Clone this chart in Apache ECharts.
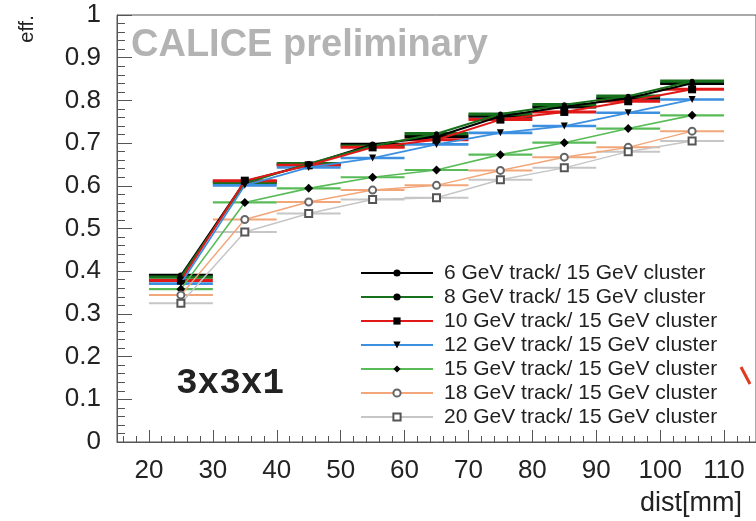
<!DOCTYPE html>
<html>
<head>
<meta charset="utf-8">
<script src="https://cdn.jsdelivr.net/npm/echarts@6/dist/echarts.min.js"></script>
<style>
  html, body { margin: 0; padding: 0; background: #ffffff; }
  #chart { width: 756px; height: 521px; }
</style>
</head>
<body>
<div id="chart"></div>
<script>
// ---- data ----
const binCenters = [25, 35, 45, 55, 65, 75, 85, 95, 105];
const binHalfWidth = 5;
const eff6  = [0.390, 0.610, 0.650, 0.697, 0.715, 0.763, 0.785, 0.805, 0.840];
const eff8  = [0.386, 0.606, 0.652, 0.693, 0.722, 0.768, 0.790, 0.810, 0.845];
const eff10 = [0.378, 0.612, 0.648, 0.690, 0.708, 0.755, 0.773, 0.798, 0.826];
const eff12 = [0.371, 0.601, 0.643, 0.665, 0.697, 0.724, 0.740, 0.771, 0.802];
const eff15 = [0.358, 0.561, 0.594, 0.620, 0.637, 0.673, 0.701, 0.734, 0.765];
const eff18 = [0.344, 0.521, 0.562, 0.590, 0.601, 0.636, 0.667, 0.690, 0.728];
const eff20 = [0.325, 0.492, 0.535, 0.568, 0.572, 0.614, 0.642, 0.680, 0.705];
const seriesNames = [
  '6 GeV track/ 15 GeV cluster',
  '8 GeV track/ 15 GeV cluster',
  '10 GeV track/ 15 GeV cluster',
  '12 GeV track/ 15 GeV cluster',
  '15 GeV track/ 15 GeV cluster',
  '18 GeV track/ 15 GeV cluster',
  '20 GeV track/ 15 GeV cluster'
];
const xMajorTicks = [20, 30, 40, 50, 60, 70, 80, 90, 100, 110];
const xMinorTicks = [16, 18, 22, 24, 26, 28, 32, 34, 36, 38, 42, 44, 46, 48, 52, 54, 56, 58,
  62, 64, 66, 68, 72, 74, 76, 78, 82, 84, 86, 88, 92, 94, 96, 98, 102, 104, 106, 108, 112, 114];

// ---- styles ----
const allValues = [eff6, eff8, eff10, eff12, eff15, eff18, eff20];
const styles = [
  { color: '#000000', symbol: 'circle', size: 6, rotate: 0, mark: '#000', barW: 3.2, lineW: 2 },
  { color: '#17701c', symbol: 'circle', size: 5, rotate: 0, mark: '#000', barW: 3.2, lineW: 2 },
  { color: '#e01818', symbol: 'rect', size: 8, rotate: 0, mark: '#000', barW: 3, lineW: 2 },
  { color: '#3d8fe0', symbol: 'triangle', size: 7, rotate: 180, mark: '#000', barW: 2.6, lineW: 1.8 },
  { color: '#58bb58', symbol: 'diamond', size: 9, rotate: 0, mark: '#000', barW: 2.2, lineW: 1.6 },
  { color: '#f2a679', symbol: 'emptyCircle', size: 7, rotate: 0, mark: '#666', barW: 2, lineW: 1.5 },
  { color: '#c6c6c6', symbol: 'emptyRect', size: 7, rotate: 0, mark: '#555', barW: 2, lineW: 1.5 }
];

const font = 'Liberation Sans, Arial, Helvetica, sans-serif';
const series = [];

// horizontal bin-width bars
allValues.forEach(function (vals, i) {
  const st = styles[i];
  series.push({
    type: 'custom',
    xAxisIndex: 0,
    yAxisIndex: 0,
    silent: true,
    z: 2,
    data: binCenters.map(function (x, k) { return [x, vals[k]]; }),
    encode: { x: 0, y: 1 },
    renderItem: function (params, api) {
      const x = api.value(0), y = api.value(1);
      const p1 = api.coord([x - binHalfWidth, y]);
      const p2 = api.coord([x + binHalfWidth, y]);
      return {
        type: 'line',
        shape: { x1: p1[0], y1: p1[1], x2: p2[0], y2: p2[1] },
        style: { stroke: st.color, lineWidth: st.barW }
      };
    }
  });
});

// connecting lines + markers
allValues.forEach(function (vals, i) {
  const st = styles[i];
  const empty = st.symbol.indexOf('empty') === 0;
  series.push({
    name: seriesNames[i],
    type: 'line',
    xAxisIndex: 0,
    yAxisIndex: 0,
    z: 3 + i,
    data: binCenters.map(function (x, k) { return [x, vals[k]]; }),
    symbol: st.symbol,
    symbolSize: st.size,
    symbolRotate: st.rotate,
    showAllSymbol: true,
    lineStyle: { color: st.color, width: st.lineW },
    itemStyle: { color: st.mark, borderColor: st.mark, borderWidth: empty ? 1.5 : 0 },
    emphasis: { disabled: true },
    animation: false
  });
});

const chart = echarts.init(document.getElementById('chart'), null, { renderer: 'canvas' });
chart.setOption({
  backgroundColor: '#ffffff',
  animation: false,
  grid: {
    left: 117, top: 15, right: -6, bottom: 79,
    show: true, borderColor: '#555', borderWidth: 1, backgroundColor: 'transparent'
  },
  legend: {
    data: seriesNames,
    orient: 'vertical',
    left: 355,
    top: 256,
    itemWidth: 72,
    itemHeight: 9,
    itemGap: 0,
    selectedMode: false,
    textStyle: { fontFamily: font, fontSize: 21, color: '#222', lineHeight: 24, padding: [0, 0, 0, 6] }
  },
  xAxis: [
    {
      type: 'value', min: 15, max: 115, interval: 5,
      splitLine: { show: false },
      axisLine: { show: true, onZero: false, lineStyle: { color: '#555', width: 1 } },
      axisTick: { show: true, inside: true, length: 12, customValues: xMajorTicks, lineStyle: { color: '#555' } },
      axisLabel: { customValues: xMajorTicks, margin: 16, fontFamily: font, fontSize: 26, color: '#222' }
    },
    {
      type: 'value', min: 15, max: 115, interval: 5, position: 'bottom',
      splitLine: { show: false },
      axisLine: { show: false },
      axisTick: { show: true, inside: true, length: 6, customValues: xMinorTicks, lineStyle: { color: '#555' } },
      axisLabel: { show: false }
    }
  ],
  yAxis: {
    type: 'value', min: 0, max: 1, interval: 0.1,
    splitLine: { show: false },
    axisLine: { show: true, onZero: false, lineStyle: { color: '#555', width: 1 } },
    axisTick: { show: true, inside: true, length: 15, lineStyle: { color: '#555' } },
    minorTick: { show: true, splitNumber: 5, length: 8, lineStyle: { color: '#555' } },
    axisLabel: {
      margin: 16, fontFamily: font, fontSize: 26, color: '#222',
      formatter: function (v) { return String(Math.round(v * 10) / 10); }
    }
  },
  graphic: [
    {
      type: 'text', left: 131, top: 27, silent: true,
      style: { text: 'CALICE preliminary', fontFamily: font, fontWeight: 'bold', fontSize: 38, fill: '#b3b3b3' }
    },
    {
      type: 'text', left: 176, top: 366, silent: true,
      style: { text: '3x3x1', fontFamily: 'Liberation Mono, Courier New, monospace', fontWeight: 'bold', fontSize: 36, fill: '#222' }
    },
    {
      type: 'text', left: 640, top: 490, silent: true,
      style: { text: 'dist[mm]', fontFamily: font, fontSize: 27, fill: '#222' }
    },
    {
      type: 'text', x: 27, y: 29, rotation: Math.PI / 2, silent: true,
      style: { text: 'eff.', fontFamily: font, fontSize: 20, fill: '#222', align: 'center', verticalAlign: 'middle' }
    },
    {
      type: 'line', silent: true,
      shape: { x1: 741, y1: 367, x2: 750, y2: 384 },
      style: { stroke: '#e03a20', lineWidth: 3 }
    }
  ],
  series: series
});
</script>
</body>
</html>
